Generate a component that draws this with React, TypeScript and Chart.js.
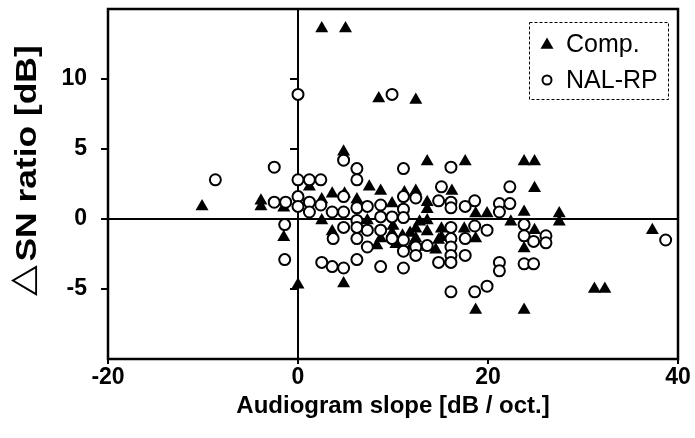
import React, { useEffect, useRef } from "react";
import { Chart, registerables } from "chart.js";

Chart.register(...registerables);

const xTickValues = [-20, 0, 20, 40];
const yTickValues = [-5, 0, 5, 10];

const compX = [-10.1, -3.9, -3.9, -1.5, -1.5, 0, 2.5, 5.0, 8.5, 12.4, 4.8, 13.6, 17.6, 23.8, 24.9, 24.9, 7.5, 8.7, 12.4, 16.2, 11.2, 3.6, 1.2, 2.5, 4.9, 6.2, 9.9, 13.6, 18.7, 19.9, 23.8, 27.5, 27.5, 22.4, 2.5, 7.3, 13.6, 13.6, 3.6, 8.7, 9.9, 12.4, 12.4, 13.6, 13.6, 15.1, 15.1, 17.5, 18.7, 23.8, 24.9, 4.8, 18.7, 23.8, 31.2, 32.3, 37.3, 11.0, 10.0, 14.8, 8.3, 10.3, 12.0, 14.5, 12.8, 11.8];
const compY = [0.9, 1.3, 0.9, 0.8, -1.3, -4.7, 13.6, 13.6, 8.6, 8.5, 4.8, 4.1, 4.1, 4.1, 4.1, 2.2, 2.3, 2.0, 2.0, 2.0, 1.9, 1.8, 2.3, 1.4, 1.8, 1.4, 1.1, 1.2, 0.4, 0.4, 0.5, 0.4, -0.2, -0.2, -0.1, -0.1, 0.7, -0.1, -0.9, -1.4, -1.0, -0.7, -1.4, -0.9, -2.0, -0.7, -1.3, -0.7, -1.4, -2.1, -0.8, -4.6, -6.5, -6.5, -5.0, -5.0, -0.8, -1.2, -0.5, -1.5, -1.9, -1.8, -1.9, -2.2, -0.2, -1.0];

const nalX = [-8.7, -2.5, -2.5, -1.3, -1.4, -1.4, 0, 9.9, 0, 1.2, 2.4, 0, 0, 1.2, 1.2, 2.4, 3.6, 2.5, 3.6, 3.7, 4.8, 6.2, 6.2, 11.1, 16.1, 15.1, 22.3, 4.8, 4.8, 6.2, 6.2, 7.3, 8.7, 8.7, 9.9, 11.1, 11.1, 11.1, 12.4, 14.8, 16.1, 16.1, 17.6, 18.6, 21.2, 21.2, 22.3, 4.8, 6.2, 6.2, 7.3, 7.3, 8.7, 9.9, 11.1, 11.1, 12.4, 12.4, 13.6, 16.1, 16.1, 16.1, 16.1, 17.6, 17.6, 18.6, 19.9, 23.8, 23.8, 24.8, 26.1, 26.1, 38.7, 4.8, 6.2, 8.7, 11.1, 14.8, 16.1, 21.2, 21.2, 23.8, 24.8, 16.1, 18.6, 19.9];
const nalY = [2.8, 3.7, 1.2, 1.2, -0.4, -2.9, 8.9, 8.9, 2.8, 2.8, 2.8, 1.6, 0.9, 1.2, 0.5, 1.0, 0.5, -3.1, -3.4, -1.4, 4.2, 3.6, 2.8, 3.6, 3.7, 2.3, 2.3, 1.6, 0.5, 0.8, -0.1, 0.9, 1.0, 0.15, 0.15, 1.6, 0.7, 0.1, 1.5, 1.3, 1.2, 0.8, 0.9, 1.3, 1.1, 0.5, 1.1, -0.6, -0.6, -1.4, -0.8, -2.0, -0.8, -1.4, -1.5, -2.3, -2.0, -2.6, -1.9, -0.6, -1.4, -2.0, -2.6, -1.4, -2.6, -0.5, -0.8, -0.4, -1.2, -1.6, -1.2, -1.7, -1.5, -3.5, -2.9, -3.4, -3.5, -3.1, -3.1, -3.1, -3.7, -3.2, -3.2, -5.2, -5.2, -4.8];

const seriesNames = ["Comp.", "NAL-RP"];
const xTitle = "Audiogram slope [dB / oct.]";
const yTitleSymbol = "\u25B3";
const yTitleText = "SN ratio [dB]";

const FONT = "'Liberation Sans', Arial, sans-serif";

const decorPlugin = {
  id: "decor",
  beforeDatasetsDraw(chart: any) {
    const { ctx, chartArea: a, scales } = chart;
    const xs = scales.x;
    const ys = scales.y;
    const x0 = Math.round(xs.getPixelForValue(0));
    const y0 = Math.round(ys.getPixelForValue(0));
    ctx.save();
    ctx.strokeStyle = "#000";
    ctx.lineWidth = 2;
    ctx.beginPath();
    ctx.moveTo(a.left, y0);
    ctx.lineTo(a.right, y0);
    ctx.moveTo(x0, a.top);
    ctx.lineTo(x0, a.bottom);
    yTickValues.forEach((v) => {
      const py = Math.round(ys.getPixelForValue(v));
      ctx.moveTo(x0 - 8, py);
      ctx.lineTo(x0, py);
    });
    ctx.stroke();
    ctx.lineWidth = 2.5;
    ctx.strokeRect(a.left, a.top, a.right - a.left, a.bottom - a.top);
    ctx.restore();
  },
  afterDraw(chart: any) {
    const { ctx } = chart;
    ctx.save();
    const stretch = 1.18;
    ctx.translate(36, 296);
    ctx.rotate(-Math.PI / 2);
    ctx.scale(stretch, 1);
    ctx.fillStyle = "#000";
    ctx.textBaseline = "alphabetic";
    ctx.textAlign = "left";
    ctx.font = "34px 'DejaVu Sans', sans-serif";
    const w0 = ctx.measureText(yTitleSymbol).width;
    ctx.fillText(yTitleSymbol, 0, -3);
    ctx.font = "bold 30px " + FONT;
    ctx.fillText(yTitleText, w0 + 3, 0);
    ctx.restore();

    ctx.save();
    const bx = 529, by = 22, bw = 139, bh = 77;
    ctx.strokeStyle = "#000";
    ctx.lineWidth = 1;
    ctx.setLineDash([3, 2]);
    ctx.strokeRect(bx + 0.5, by + 0.5, bw, bh);
    ctx.setLineDash([]);
    const rows = [44, 80];
    const r = 7.5;
    ctx.fillStyle = "#000";
    ctx.beginPath();
    for (let i = 0; i < 3; i++) {
      const ang = (i * 2 * Math.PI) / 3;
      const px = 547 + Math.sin(ang) * r;
      const py = rows[0] + 1 - Math.cos(ang) * r;
      if (i === 0) ctx.moveTo(px, py);
      else ctx.lineTo(px, py);
    }
    ctx.closePath();
    ctx.fill();
    ctx.beginPath();
    ctx.arc(547, rows[1], 4.5, 0, Math.PI * 2);
    ctx.fillStyle = "#fff";
    ctx.fill();
    ctx.lineWidth = 2;
    ctx.strokeStyle = "#000";
    ctx.stroke();
    ctx.fillStyle = "#000";
    ctx.font = "25px " + FONT;
    ctx.textAlign = "left";
    ctx.textBaseline = "middle";
    ctx.fillText(seriesNames[0], 566, rows[0] + 1);
    ctx.fillText(seriesNames[1], 566, rows[1] + 1);
    ctx.restore();
  },
};

export default function App() {
  const ref = useRef<HTMLCanvasElement>(null);
  useEffect(() => {
    if (!ref.current) return;
    const comp = compX.map((x, i) => ({ x, y: compY[i] }));
    const nal = nalX.map((x, i) => ({ x, y: nalY[i] }));
    const chart = new Chart(ref.current, {
      type: "scatter",
      data: {
        datasets: [
          {
            label: seriesNames[1],
            data: nal,
            pointStyle: "circle",
            pointRadius: 5.5,
            borderWidth: 2,
            borderColor: "#000",
            backgroundColor: "#fff",
          },
          {
            label: seriesNames[0],
            data: comp,
            pointStyle: "triangle",
            pointRadius: 7.5,
            borderWidth: 0,
            borderColor: "#000",
            backgroundColor: "#000",
          },
        ],
      },
      plugins: [decorPlugin],
      options: {
        animation: false,
        responsive: false,
        events: [],
        layout: { padding: { left: 0, top: 9, right: 17, bottom: 0 } },
        plugins: { legend: { display: false }, tooltip: { enabled: false } },
        scales: {
          x: {
            type: "linear",
            min: -20,
            max: 40,
            afterBuildTicks: (s: any) => {
              s.ticks = xTickValues.map((v) => ({ value: v }));
            },
            afterFit: (s: any) => {
              s.height = 79;
              s.paddingLeft = 0;
              s.paddingRight = 0;
            },
            grid: { drawOnChartArea: false, drawTicks: true, tickLength: 5, color: "#000", lineWidth: 2 },
            border: { display: false },
            ticks: { color: "#000", padding: 0, font: { family: FONT, size: 23, weight: "bold" } },
            title: {
              display: true,
              text: xTitle,
              color: "#000",
              font: { family: FONT, size: 24, weight: "bold" },
              padding: { top: 0, bottom: 17 },
            },
          },
          y: {
            type: "linear",
            min: -10,
            max: 15,
            afterBuildTicks: (s: any) => {
              s.ticks = yTickValues.map((v) => ({ value: v }));
            },
            afterFit: (s: any) => {
              s.width = 108;
              s.paddingTop = 0;
              s.paddingBottom = 0;
            },
            grid: { drawOnChartArea: false, drawTicks: true, tickLength: 7, color: "#000", lineWidth: 2 },
            border: { display: false },
            ticks: { color: "#000", padding: 14, font: { family: FONT, size: 23, weight: "bold" } },
          },
        },
      },
    } as any);
    return () => chart.destroy();
  }, []);
  return (
    <div style={{ position: "fixed", left: 0, top: 0, width: 695, height: 438, background: "#fff" }}>
      <canvas ref={ref} width={695} height={438} style={{ display: "block" }} />
    </div>
  );
}
